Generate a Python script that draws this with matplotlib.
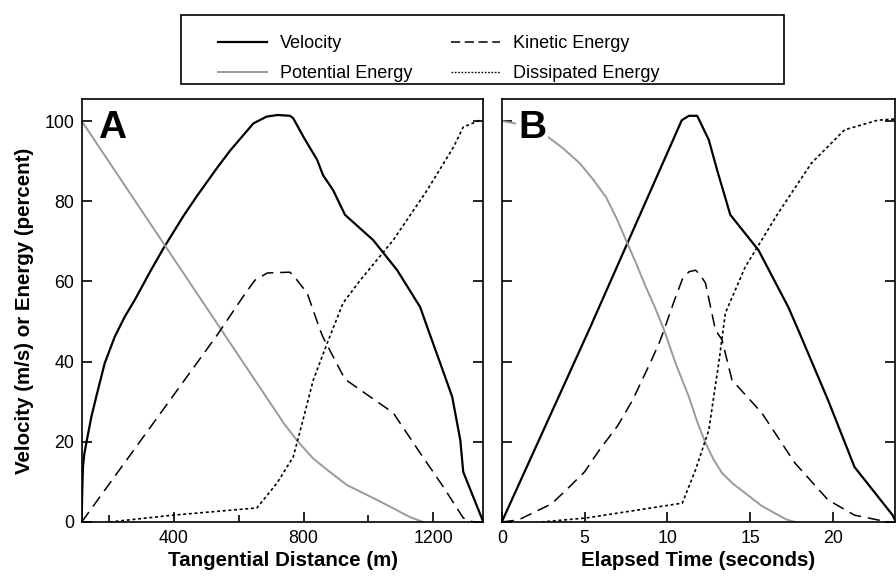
import numpy as np
import matplotlib
matplotlib.use('Agg')
import matplotlib.pyplot as plt
from matplotlib.lines import Line2D
from matplotlib.patches import Rectangle

plt.rcParams['font.family'] = ['Liberation Sans', 'DejaVu Sans']

# Panel A: tangential distance (m)
dist_vel = [115, 116, 117, 119, 123, 129, 145, 165, 186, 217, 248, 279, 326, 367, 429, 470, 532,
            573, 645, 686, 720, 758, 768, 800, 842, 860, 891, 928, 1015, 1089, 1160, 1185,
            1222, 1259, 1284, 1293, 1355]
vel_a = [0, 5, 9, 13.8, 17, 19.6, 26.3, 32.9, 39.6, 46.2, 51.2, 55.4, 62.4, 68.2, 76.3, 81.2, 88.2,
         92.6, 99.4, 101.1, 101.5, 101.3, 100.7, 96, 90.3, 86.5, 82.8, 76.6, 70.3, 62.8, 53.6, 47.9,
         39.6, 31.2, 20.4, 12.5, 0]

dist_pe = [115, 740, 783, 830, 873, 934, 1027, 1129, 1169]
pe_a = [100, 24.5, 20, 15.8, 13, 9.2, 5.5, 1.2, 0]

dist_ke = [115, 533, 620, 650, 688, 758, 780, 811, 851, 860, 922, 928, 1006, 1077, 1160, 1232, 1293, 1324]
ke_a = [0, 46.6, 57, 60.3, 62.1, 62.3, 60.3, 57.1, 47.9, 46.1, 36.5, 35.6, 31.2, 27.2, 17.2, 8.7, 1, 0]

dist_de = [202, 397, 656, 718, 768, 790, 830, 873, 922, 975, 1077, 1182, 1263, 1293, 1345]
de_a = [0, 1.7, 3.5, 9.7, 16.2, 22.9, 35.4, 44.6, 54.6, 60.3, 70.3, 82.8, 93.5, 98.5, 100.2]

# Panel B: elapsed time (s)
time_vel = [0, 5.27, 10.87, 11.3, 11.8, 12.5, 13.0, 13.8, 15.5, 17.3, 17.9, 19.7, 21.3, 23.6, 23.8]
vel_b = [0, 47.9, 100.2, 101.3, 101.3, 95.3, 87.8, 76.6, 67.8, 53.6, 47.9, 30.4, 13.7, 1.7, 0]

time_pe = [0, 1.5, 2.7, 3.7, 4.7, 5.5, 6.3, 6.9, 7.5, 8.1, 8.7, 9.2, 9.8, 10.5, 11.3,
           11.8, 12.3, 12.8, 13.3, 14.0, 14.7, 15.7, 16.7, 17.2, 17.7]
pe_b = [100, 98.9, 96.3, 93.2, 89.5, 85.5, 81, 76, 70.3, 64.6, 58.6, 54, 47.9, 39.5, 31.2,
        25, 19.7, 15.5, 12.2, 9.4, 7.2, 4, 1.7, 0.6, 0]

time_ke = [0, 1, 1.85, 3, 3.9, 5, 5.9, 7, 7.9, 9, 9.5, 9.8, 10.4, 10.9, 11.3, 11.7, 12.0, 12.3,
           12.9, 13.3, 13.9, 15.7, 17.7, 19.7, 21.3, 23.3]
ke_b = [0, 0.5, 2.2, 4.5, 8, 12.5, 18, 24, 30.4, 40, 44.6, 47.9, 55, 60.5, 62.4, 62.8, 61.5, 59.6,
        47.9, 45.4, 35.4, 27.2, 14.7, 5.5, 1.7, 0]

time_de = [2.4, 5.1, 10.9, 11.7, 12.5, 13.1, 13.5, 14.7, 16.7, 18.7, 20.7, 22.7, 23.7]
de_b = [0, 1, 4.7, 13, 22.9, 39.6, 52.1, 63.6, 77.1, 89.5, 97.8, 100.2, 100.5]

gray = '#9a9a9a'
dash = (0, (8, 4.5))
dot = (0, (1.8, 1.6))

fig = plt.figure(figsize=(8.96, 5.76), dpi=100)
ax_a = fig.add_axes([0.0912, 0.0938, 0.4482, 0.7344])
ax_b = fig.add_axes([0.5600, 0.0938, 0.4390, 0.7344])

ax_a.plot(dist_vel, vel_a, color='black', lw=1.6)
ax_a.plot(dist_pe, pe_a, color=gray, lw=1.4)
ax_a.plot(dist_ke, ke_a, color='black', lw=1.1, linestyle=dash)
ax_a.plot(dist_de, de_a, color='black', lw=1.2, linestyle=dot)

ax_b.plot(time_vel, vel_b, color='black', lw=1.6)
ax_b.plot(time_pe, pe_b, color=gray, lw=1.4)
ax_b.plot(time_ke, ke_b, color='black', lw=1.1, linestyle=dash)
ax_b.plot(time_de, de_b, color='black', lw=1.2, linestyle=dot)

ax_a.set_xlim(115, 1355)
ax_b.set_xlim(0, 23.75)
ax_a.set_xticks([400, 800, 1200])
ax_a.set_xticks([200, 600, 1000], minor=True)
ax_b.set_xticks([0, 5, 10, 15, 20])

for ax in (ax_a, ax_b):
    ax.set_ylim(0, 105.5)
    ax.set_yticks([0, 20, 40, 60, 80, 100])
    ax.tick_params(which='both', direction='in', length=7, width=1.2,
                   right=True, labelsize=12.8, pad=5.5, colors='black')
    ax.tick_params(which='minor', length=5)
    for s in ax.spines.values():
        s.set_linewidth(1.2)
ax_b.tick_params(labelleft=False)

ax_a.set_xlabel('Tangential Distance (m)', fontsize=14.8, fontweight='bold', labelpad=3)
ax_b.set_xlabel('Elapsed Time (seconds)', fontsize=14.8, fontweight='bold', labelpad=3)
ax_a.set_ylabel('Velocity (m/s) or Energy (percent)', fontsize=14.8, fontweight='bold', labelpad=7)

ax_a.text(0.041, 0.908, 'A', transform=ax_a.transAxes, fontsize=28, fontweight='bold',
          ha='left', va='baseline')
ax_b.text(0.041, 0.908, 'B', transform=ax_b.transAxes, fontsize=28, fontweight='bold',
          ha='left', va='baseline',
          bbox=dict(facecolor='white', edgecolor='none', pad=1))

handles = [Line2D([], [], color='black', lw=1.6),
           Line2D([], [], color=gray, lw=1.4),
           Line2D([], [], color='black', lw=1.1, linestyle=(0, (6, 3))),
           Line2D([], [], color='black', lw=1.0, linestyle=(0, (1.2, 1.2)))]
labels = ['Velocity', 'Potential Energy', 'Kinetic Energy', 'Dissipated Energy']
fig.legend(handles, labels, ncol=2, loc='upper left',
           bbox_to_anchor=(218 / 896, 1 - 35 / 576), frameon=False,
           fontsize=13, handlelength=2.7, handletextpad=0.72,
           columnspacing=2.17, labelspacing=0.72, borderpad=0, borderaxespad=0)
fig.patches.append(Rectangle((181 / 896, 1 - 84 / 576), 603 / 896, 69 / 576,
                             transform=fig.transFigure, fill=False,
                             edgecolor='black', lw=1.2))

fig.savefig('out.png', dpi=100)
